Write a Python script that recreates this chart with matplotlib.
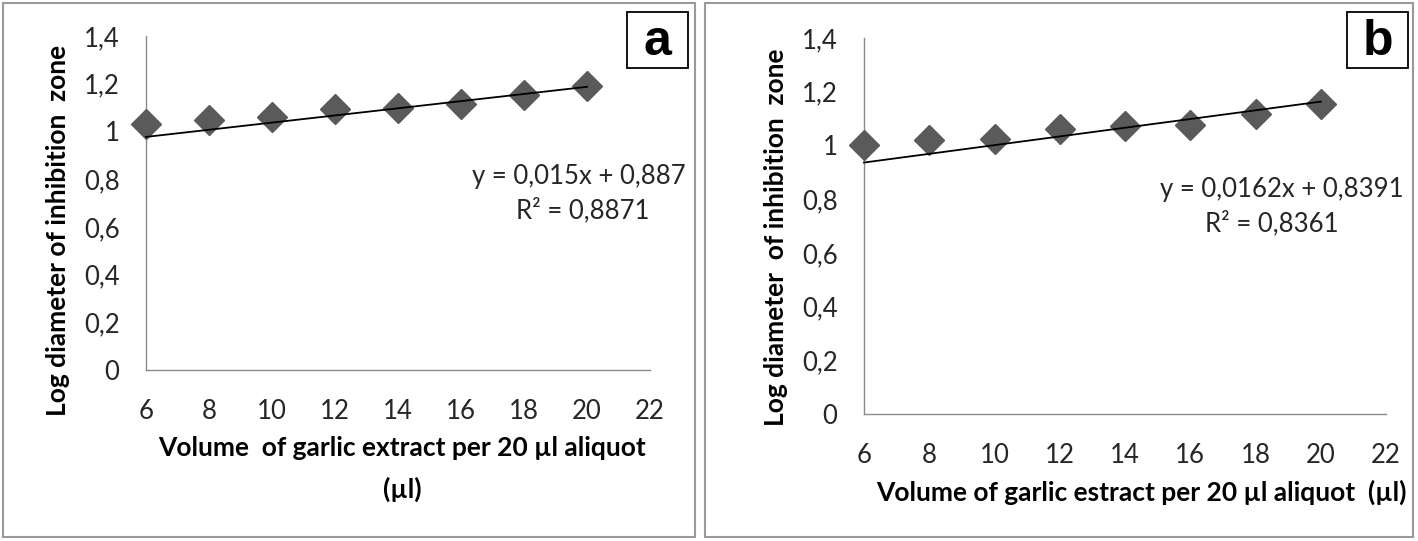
import matplotlib.pyplot as plt
import numpy as np
from matplotlib.patches import Rectangle

W, H = 1418, 541
DPI = 100

# data
volume = [6, 8, 10, 12, 14, 16, 18, 20]
log_a = [1.03, 1.048, 1.06, 1.095, 1.10, 1.117, 1.153, 1.189]
log_b = [1.002, 1.019, 1.024, 1.06, 1.073, 1.077, 1.118, 1.156]

# trendline coefficients as printed on the chart
fit_a = (0.015, 0.887)
fit_b = (0.0162, 0.8391)
eq_a = ["y = 0,015x + 0,887", "R² = 0,8871"]
eq_b = ["y = 0,0162x + 0,8391", "R² = 0,8361"]

xticks = [6, 8, 10, 12, 14, 16, 18, 20, 22]
yticks = [0, 0.2, 0.4, 0.6, 0.8, 1.0, 1.2, 1.4]
ytick_labels = ["0", "0,2", "0,4", "0,6", "0,8", "1", "1,2", "1,4"]

FONT = ["Lato", "DejaVu Sans"]
plt.rcParams["font.family"] = FONT

MARKER_COL = "#5a5a5a"
AXIS_COL = "#8a8a8a"
TEXT_COL = "#262626"
TICK_FS = 18.5
LABEL_FS = 19
EQ_FS = 18.5


def px_box(x0, y0, x1, y1):
    # pixel box (top-left origin) -> figure fraction [left, bottom, width, height]
    return [x0 / W, 1 - y1 / H, (x1 - x0) / W, (y1 - y0) / H]


def draw_panel(fig, box, x, y, fit):
    ax = fig.add_axes(box)
    ax.plot(x, y, linestyle="none", marker="D", markersize=15,
            color=MARKER_COL, zorder=3, clip_on=False)
    xs = np.array([x[0], x[-1]])
    ax.plot(xs, fit[0] * xs + fit[1], color="black", linewidth=1.3,
            zorder=4, clip_on=False)
    ax.set_xlim(6, 22)
    ax.set_ylim(0, 1.4)
    ax.set_xticks(xticks)
    ax.set_yticks(yticks)
    ax.set_yticklabels(ytick_labels)
    for side in ["top", "right"]:
        ax.spines[side].set_visible(False)
    for side in ["left", "bottom"]:
        ax.spines[side].set_color(AXIS_COL)
        ax.spines[side].set_linewidth(1.0)
    ax.tick_params(axis="both", length=0, labelsize=TICK_FS, colors=TEXT_COL)
    ax.tick_params(axis="x", pad=21)
    ax.tick_params(axis="y", pad=19)
    ax.patch.set_alpha(0)
    return ax


fig = plt.figure(figsize=(W / DPI, H / DPI), dpi=DPI)

# panel frames
for x0, x1 in [(3, 695), (705, 1413)]:
    fig.patches.append(Rectangle((x0 / W, 1 - 537 / H), (x1 - x0) / W, 534 / H,
                                 transform=fig.transFigure, fill=False,
                                 edgecolor="#9a9a9a", linewidth=1.5))

ax_a = draw_panel(fig, px_box(146, 36, 650, 370), volume, log_a, fit_a)
ax_b = draw_panel(fig, px_box(864, 38, 1386, 414), volume, log_b, fit_b)

# axis titles
fig.text(58 / W, 1 - 230 / H, "Log diameter of inhibition  zone", rotation=90,
         ha="center", va="center", fontsize=LABEL_FS, fontweight="bold", color="black")
fig.text(776 / W, 1 - 237 / H, "Log diameter  of inhibition  zone", rotation=90,
         ha="center", va="center", fontsize=LABEL_FS, fontweight="bold", color="black")
fig.text(402 / W, 1 - 448 / H, "Volume  of garlic extract per 20 µl aliquot",
         ha="center", va="center", fontsize=LABEL_FS, fontweight="bold", color="black")
fig.text(402 / W, 1 - 489 / H, "(µl)",
         ha="center", va="center", fontsize=LABEL_FS, fontweight="bold", color="black")
fig.text(1141 / W, 1 - 492 / H, "Volume of garlic estract per 20 µl aliquot  (µl)",
         ha="center", va="center", fontsize=LABEL_FS, fontweight="bold", color="black")

# trendline equations
fig.text(686 / W, 1 - 177 / H, eq_a[0], ha="right", va="center",
         fontsize=EQ_FS, color=TEXT_COL)
fig.text(583 / W, 1 - 210 / H, eq_a[1], ha="center", va="center",
         fontsize=EQ_FS, color=TEXT_COL)
fig.text(1404 / W, 1 - 190 / H, eq_b[0], ha="right", va="center",
         fontsize=EQ_FS, color=TEXT_COL)
fig.text(1272 / W, 1 - 223 / H, eq_b[1], ha="center", va="center",
         fontsize=EQ_FS, color=TEXT_COL)

# panel letters in boxes
for (x0, x1), letter in [((627, 688), "a"), ((1347, 1408), "b")]:
    fig.patches.append(Rectangle((x0 / W, 1 - 68 / H), (x1 - x0) / W, 56 / H,
                                 transform=fig.transFigure, fill=False,
                                 edgecolor="black", linewidth=1.3))
    fig.text((x0 + x1) / 2 / W, 1 - 42 / H, letter, ha="center", va="center",
             fontsize=36, fontweight="bold", family=["Liberation Sans", "DejaVu Sans"])

fig.savefig("out.png", dpi=DPI, facecolor="white")
